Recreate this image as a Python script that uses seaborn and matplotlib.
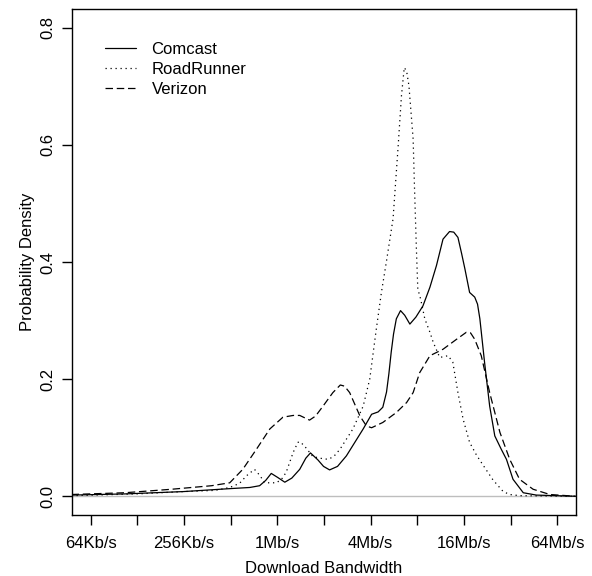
import pandas as pd
import seaborn as sns
import matplotlib.pyplot as plt

sns.set_style("ticks")
plt.rcParams["font.family"] = ["Liberation Sans", "DejaVu Sans"]
plt.rcParams["font.size"] = 12
for k in ["text.color", "axes.labelcolor", "xtick.color", "ytick.color", "axes.edgecolor"]:
    plt.rcParams[k] = "black"

# x = log2(download bandwidth in Kb/s), y = probability density
comcast_x = [5.59, 6.73, 7.99, 8.98, 9.41, 9.62, 9.75, 9.87, 10.01, 10.16, 10.31, 10.48,
             10.61, 10.71, 10.87, 10.99, 11.12, 11.29, 11.48, 11.66, 11.84, 12.02, 12.16,
             12.26, 12.34, 12.39, 12.44, 12.49, 12.55, 12.64, 12.73, 12.84, 12.97, 13.12,
             13.27, 13.41, 13.55, 13.69, 13.78, 13.87, 13.95, 14.02, 14.12, 14.23, 14.29,
             14.34, 14.44, 14.55, 14.66, 14.80, 14.91, 15.05, 15.27, 15.55, 16.39]
comcast_y = [0.002, 0.004, 0.008, 0.013, 0.015, 0.018, 0.027, 0.039, 0.032, 0.024, 0.031,
             0.046, 0.065, 0.074, 0.062, 0.051, 0.045, 0.051, 0.069, 0.092, 0.115, 0.140,
             0.144, 0.152, 0.178, 0.209, 0.246, 0.277, 0.303, 0.317, 0.309, 0.294, 0.306,
             0.325, 0.357, 0.394, 0.439, 0.452, 0.451, 0.442, 0.414, 0.388, 0.348, 0.340,
             0.328, 0.303, 0.229, 0.154, 0.103, 0.080, 0.063, 0.029, 0.006, 0.002, 0.000]

roadrunner_x = [5.59, 6.99, 7.99, 8.66, 8.98, 9.19, 9.34, 9.51, 9.62, 9.73, 9.98, 10.09,
                10.19, 10.34, 10.44, 10.49, 10.59, 10.76, 10.91, 11.09, 11.21, 11.34, 11.62,
                11.84, 11.98, 12.12, 12.23, 12.34, 12.48, 12.59, 12.66, 12.72, 12.77, 12.82,
                12.91, 12.94, 12.98, 13.01, 13.07, 13.16, 13.27, 13.34, 13.48, 13.66, 13.76,
                13.87, 13.98, 14.12, 14.27, 14.41, 14.62, 14.84, 14.98, 15.19, 16.39]
roadrunner_y = [0.001, 0.004, 0.008, 0.010, 0.015, 0.022, 0.035, 0.046, 0.036, 0.023, 0.023,
                0.029, 0.041, 0.075, 0.092, 0.093, 0.085, 0.068, 0.065, 0.063, 0.068, 0.080,
                0.115, 0.154, 0.200, 0.285, 0.348, 0.402, 0.474, 0.599, 0.684, 0.732, 0.726,
                0.701, 0.610, 0.525, 0.422, 0.354, 0.337, 0.303, 0.280, 0.263, 0.237, 0.240,
                0.229, 0.177, 0.132, 0.092, 0.070, 0.053, 0.028, 0.008, 0.003, 0.001, 0.000]

verizon_x = [5.59, 6.73, 7.74, 8.59, 8.98, 9.26, 9.55, 9.84, 10.12, 10.34, 10.48, 10.69,
             10.82, 10.98, 11.19, 11.35, 11.44, 11.55, 11.66, 11.77, 11.91, 12.02, 12.26,
             12.55, 12.77, 12.91, 13.05, 13.27, 13.55, 13.84, 14.05, 14.14, 14.23, 14.37,
             14.55, 14.77, 14.98, 15.19, 15.48, 15.84, 16.39]
verizon_y = [0.003, 0.006, 0.012, 0.018, 0.023, 0.046, 0.080, 0.115, 0.135, 0.138, 0.138,
             0.130, 0.137, 0.154, 0.177, 0.190, 0.188, 0.177, 0.157, 0.137, 0.120, 0.117,
             0.126, 0.143, 0.160, 0.177, 0.211, 0.240, 0.251, 0.268, 0.280, 0.279, 0.268,
             0.240, 0.177, 0.109, 0.063, 0.029, 0.012, 0.003, 0.000]

isps = ["Comcast", "RoadRunner", "Verizon"]
tick_pos = [6, 7, 8, 9, 10, 11, 12, 13, 14, 15, 16]
tick_labels = ["64Kb/s", "", "256Kb/s", "", "1Mb/s", "", "4Mb/s", "", "16Mb/s", "", "64Mb/s"]
y_ticks = [0.0, 0.2, 0.4, 0.6, 0.8]

df = pd.concat([
    pd.DataFrame({"x": comcast_x, "density": comcast_y, "isp": "Comcast"}),
    pd.DataFrame({"x": roadrunner_x, "density": roadrunner_y, "isp": "RoadRunner"}),
    pd.DataFrame({"x": verizon_x, "density": verizon_y, "isp": "Verizon"}),
], ignore_index=True)

fig = plt.figure(figsize=(5.92, 5.76), dpi=100)
ax = fig.add_axes([72 / 592, 1 - 515 / 576, 504 / 592, 506 / 576])

ax.axhline(0, color="#bebebe", lw=1.0, zorder=0)
sns.lineplot(data=df, x="x", y="density", style="isp", style_order=isps,
             dashes={"Comcast": "", "RoadRunner": (1, 3), "Verizon": (6, 3)},
             color="black", lw=0.9, estimator=None, sort=False, ax=ax)

# R-like extents (4% padding around [6, 16] and [0, 0.8])
ax.set_xlim(6 - 0.4, 16 + 0.4)
ax.set_ylim(-0.032, 0.832)
ax.set_xticks(tick_pos)
ax.set_xticklabels(tick_labels)
ax.set_yticks(y_ticks)
ax.set_yticklabels([f"{v:.1f}" for v in y_ticks], rotation=90, va="center")
ax.tick_params(axis="both", length=7, width=1, color="black", labelsize=12)
ax.tick_params(axis="x", pad=8)
ax.tick_params(axis="y", pad=5)
for s in ax.spines.values():
    s.set_color("black")
    s.set_linewidth(1.0)
ax.set_xlabel("Download Bandwidth", fontsize=12, labelpad=7)
ax.set_ylabel("Probability Density", fontsize=12, labelpad=4)

sns.move_legend(ax, "upper left", bbox_to_anchor=(0.065, 0.935), frameon=False,
                title=None, fontsize=12, handlelength=1.9, handletextpad=0.9,
                labelspacing=0.3, borderaxespad=0, borderpad=0)

fig.savefig("out.png", dpi=100)
